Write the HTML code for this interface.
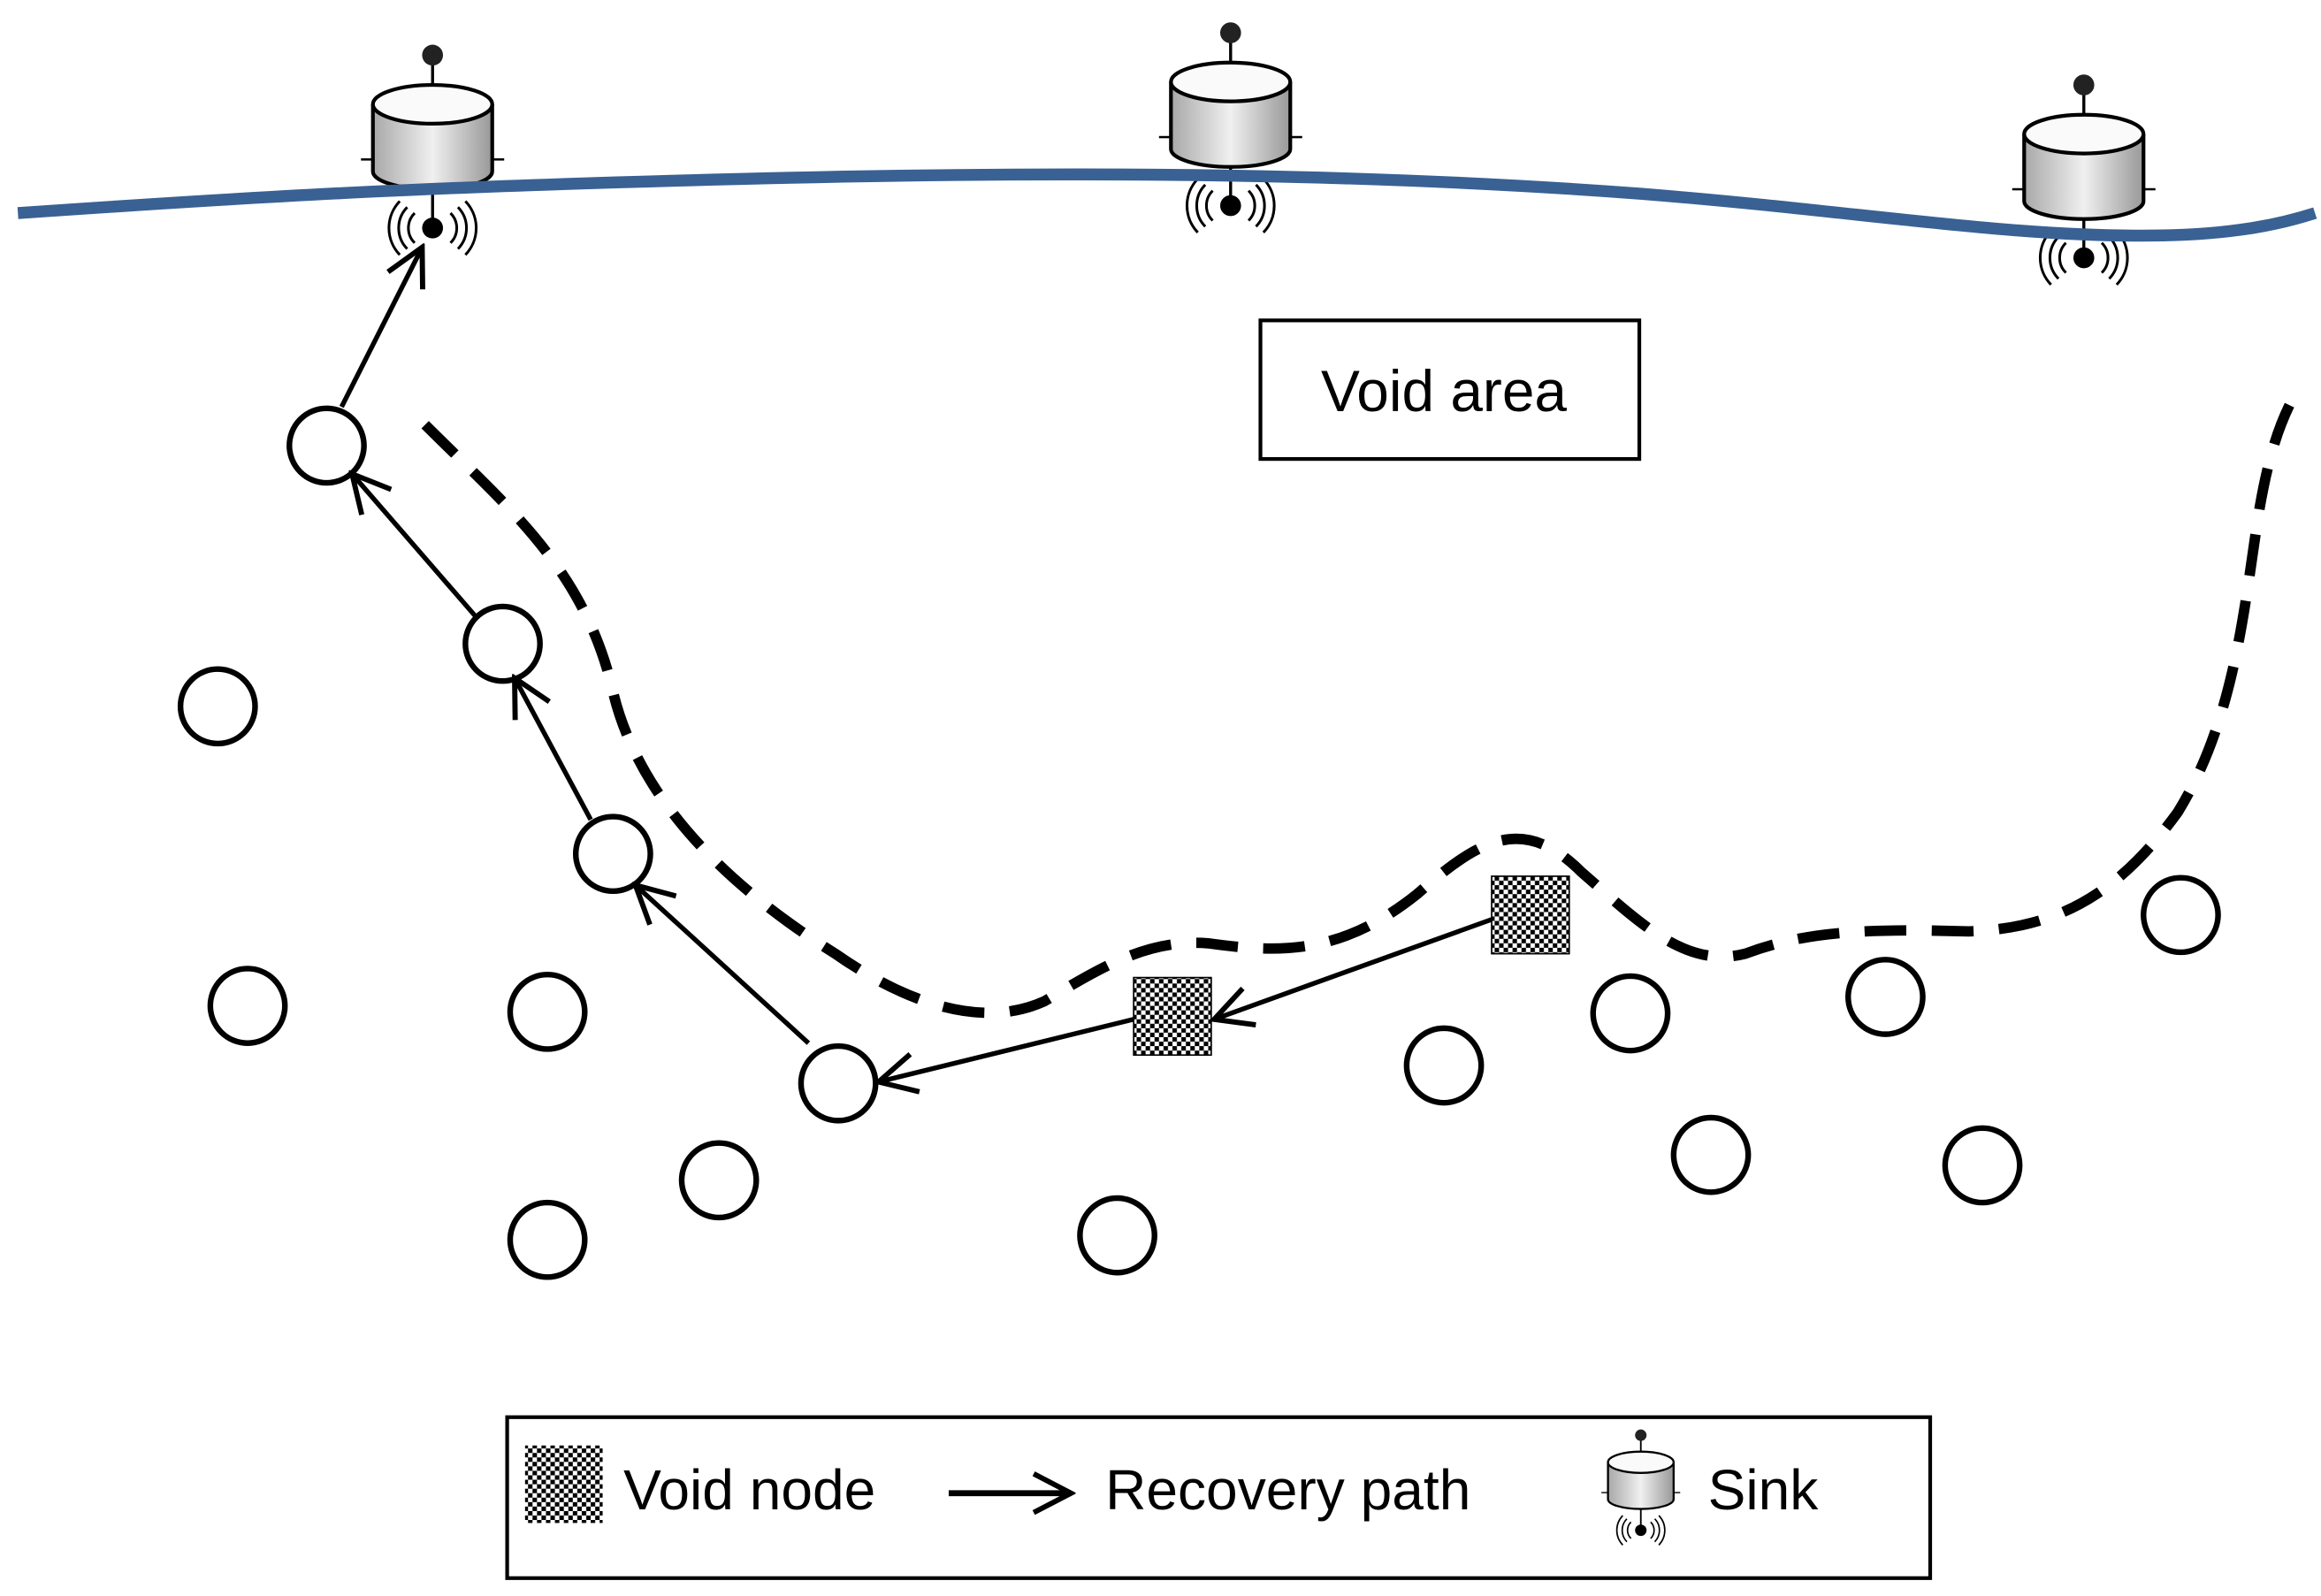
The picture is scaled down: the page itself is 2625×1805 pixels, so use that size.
<!DOCTYPE html>
<html><head><meta charset="utf-8"><style>
html,body{margin:0;padding:0;background:#fff;}
svg{display:block;}
text{font-family:"Liberation Sans","DejaVu Sans",sans-serif;fill:#000;}
</style></head><body>
<svg width="2625" height="1805" viewBox="0 0 1556 1071" preserveAspectRatio="none" xmlns="http://www.w3.org/2000/svg">
<defs>
<pattern id="chk" width="6" height="6" patternUnits="userSpaceOnUse">
<rect width="6" height="6" fill="#fff"/><rect width="3" height="3" fill="#000"/><rect x="3" y="3" width="3" height="3" fill="#000"/>
</pattern>
<linearGradient id="cyl" x1="0" x2="1">
<stop offset="0" stop-color="#a8a8a8"/><stop offset="0.5" stop-color="#f0f0f0"/><stop offset="1" stop-color="#989898"/>
</linearGradient>
<g id="sink">
<line x1="0" y1="-55" x2="0" y2="-30" stroke="#000" stroke-width="2"/>
<circle cx="0" cy="-58" r="7" fill="#222"/>
<path d="M-40,-25 L-40,20 A40,12 0 0 0 40,20 L40,-25" fill="url(#cyl)" stroke="#000" stroke-width="2.5"/>
<ellipse cx="0" cy="-25" rx="40" ry="13" fill="#fafafa" stroke="#000" stroke-width="2.5"/>
<line x1="-48" y1="12" x2="-40" y2="12" stroke="#000" stroke-width="1.5"/>
<line x1="40" y1="12" x2="48" y2="12" stroke="#000" stroke-width="1.5"/>
<line x1="0" y1="32" x2="0" y2="55" stroke="#000" stroke-width="2"/>
<circle cx="0" cy="58" r="7" fill="#000"/>
<path d="M-12,48 A14,14 0 0 0 -12,68 M-17,44 A20,20 0 0 0 -17,72 M-22,40 A26,26 0 0 0 -22,76 M12,48 A14,14 0 0 1 12,68 M17,44 A20,20 0 0 1 17,72 M22,40 A26,26 0 0 1 22,76" fill="none" stroke="#000" stroke-width="1.8"/>
</g>
<marker id="ah" viewBox="0 0 30 30" refX="27" refY="15" markerWidth="30" markerHeight="30" markerUnits="userSpaceOnUse" orient="auto">
<path d="M2,2 L27,15 L2,28" fill="none" stroke="#000" stroke-width="3.5"/>
</marker>
</defs>
<rect width="1556" height="1071" fill="#fff"/>
<use href="#sink" x="290" y="95"/>
<use href="#sink" x="825" y="80"/>
<use href="#sink" x="1397" y="115"/>
<path d="M12,143 C200,130 300,125 500,120 C700,115 900,115 1100,130 C1250,142 1350,160 1450,158 C1500,157 1530,150 1552,143" fill="none" stroke="#3a6193" stroke-width="8"/>
<rect x="845" y="215" width="254" height="93" fill="#fff" stroke="#000" stroke-width="2.5"/>
<text x="968" y="276" font-size="39" text-anchor="middle">Void area</text>
<path d="M285,285 C340,340 390,380 410,460 C425,530 480,590 560,640 C610,675 660,690 700,672 C740,648 770,630 810,633 C860,640 900,640 950,600 C990,565 1020,545 1060,585 C1100,620 1130,650 1170,640 C1210,625 1250,623 1320,625 C1380,623 1420,600 1460,545 C1500,480 1505,400 1515,340 C1522,300 1530,280 1540,262" fill="none" stroke="#000" stroke-width="7" stroke-dasharray="28 17"/>
<g fill="#fff" stroke="#000" stroke-width="3.8">
<circle cx="219" cy="299" r="25"/><circle cx="337" cy="432" r="25"/><circle cx="411" cy="573" r="25"/>
<circle cx="146" cy="474" r="25"/><circle cx="166" cy="675" r="25"/><circle cx="367" cy="679" r="25"/>
<circle cx="482" cy="792" r="25"/><circle cx="367" cy="832" r="25"/><circle cx="562" cy="727" r="25"/>
<circle cx="749" cy="829" r="25"/><circle cx="968" cy="715" r="25"/><circle cx="1093" cy="680" r="25"/>
<circle cx="1147" cy="775" r="25"/><circle cx="1264" cy="669" r="25"/><circle cx="1329" cy="782" r="25"/>
<circle cx="1462" cy="614" r="25"/>
</g>
<rect x="760" y="656" width="52" height="52" fill="url(#chk)" stroke="#000" stroke-width="1"/>
<rect x="1000" y="588" width="52" height="52" fill="url(#chk)" stroke="#000" stroke-width="1"/>
<g stroke="#000" stroke-width="3.2" fill="none" marker-end="url(#ah)">
<line x1="1000" y1="617" x2="814" y2="684"/>
<line x1="760" y1="684" x2="589" y2="726"/>
<line x1="542" y1="700" x2="426" y2="594"/>
<line x1="396" y1="550" x2="345" y2="455"/>
<line x1="320" y1="415" x2="236" y2="318"/>
<line x1="229" y1="273" x2="283" y2="166"/>
</g>
<rect x="340" y="951" width="954" height="108" fill="#fff" stroke="#000" stroke-width="2.5"/>
<rect x="352" y="970" width="52" height="52" fill="url(#chk)"/>
<text x="418" y="1013" font-size="38">Void node</text>
<line x1="636" y1="1002" x2="718" y2="1002" stroke="#000" stroke-width="4" marker-end="url(#ah)"/>
<text x="741" y="1013" font-size="38">Recovery path</text>
<g transform="translate(1100,995) scale(0.55)"><use href="#sink"/></g>
<text x="1145" y="1013" font-size="38">Sink</text>
</svg>
</body></html>
